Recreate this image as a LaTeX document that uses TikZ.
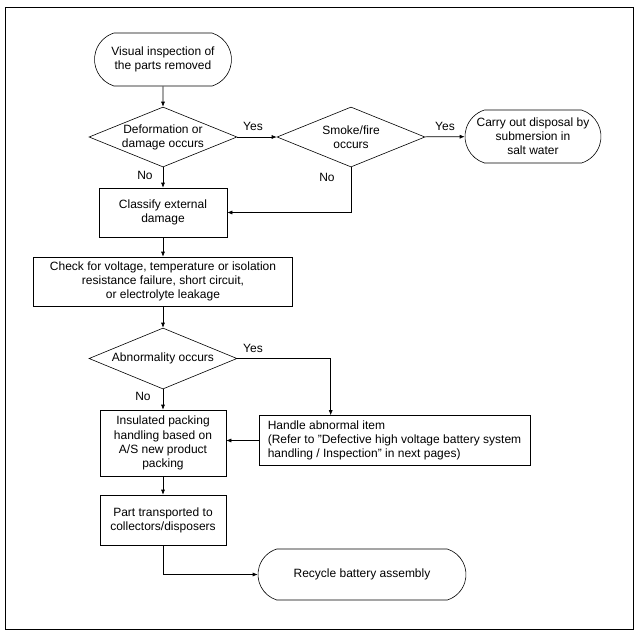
\documentclass[tikz,border=0pt]{standalone}
\usepackage{fontspec}
\setmainfont{Liberation Sans}
\usetikzlibrary{shapes.geometric,shapes.misc,arrows.meta}
\begin{document}
\begin{tikzpicture}[x=1pt,y=-1pt,
  every node/.style={font=\fontsize{12}{14.2}\selectfont},
  line/.style={draw=black,line width=0.6pt},
  arr/.style={line,-{Latex[length=5pt,width=4pt]}},
  term/.style={line,rounded rectangle,rounded rectangle arc length=145,inner sep=0pt,align=center},
  dec/.style={line,diamond,aspect=2.47,inner sep=0pt,minimum width=148pt,minimum height=60pt,align=center},
  proc/.style={line,rectangle,inner sep=0pt,align=center},
  lbl/.style={inner sep=0pt}]
\useasboundingbox (0,0) rectangle (638,633);
\draw[line] (5,7) rectangle (633,629);

\node[term,minimum width=137pt,minimum height=53pt] (start) at (163,59.5) {Visual inspection of\\the parts removed};
\node[dec] (d1) at (163,137) {Deformation or\\damage occurs};
\node[dec] (d2) at (351,137) {Smoke/fire\\occurs};
\node[term,minimum width=136pt,minimum height=53pt] (disp) at (533,136.5) {Carry out disposal by\\submersion in\\salt water};
\node[proc,minimum width=128pt,minimum height=49pt] (cls) at (163,212.5) {Classify external\\damage};
\node[proc,minimum width=259pt,minimum height=49pt] (chk) at (163,281.5) {Check for voltage, temperature or isolation\\resistance failure, short circuit,\\or electrolyte leakage};
\node[dec,minimum height=61pt] (d3) at (163,358.5) {Abnormality occurs};
\node[proc,minimum width=271pt,minimum height=50pt,align=left] (hdl) at (394.5,440.5) {Handle abnormal item\\(Refer to \char34 Defective high voltage battery system\\handling / Inspection\char34\ in next pages)};
\node[proc,minimum width=126pt,minimum height=66pt] (ins) at (163,443) {Insulated packing\\handling based on\\A/S new product\\packing};
\node[proc,minimum width=126pt,minimum height=50pt] (part) at (163,520) {Part transported to\\collectors/disposers};
\node[term,minimum width=208pt,minimum height=51pt] (rec) at (362,574.5) {Recycle battery assembly};

\draw[arr] (start) -- (d1);
\draw[arr] (d1) -- (d2);
\draw[arr] (d2) -- (disp);
\draw[arr] (d1) -- (cls);
\draw[arr] (d2.south) |- (cls.east);
\draw[arr] (cls) -- (chk);
\draw[arr] (chk) -- (d3);
\draw[arr] (d3.east) -| ([xshift=72pt]hdl.north west);
\draw[arr] (hdl.west) -- (ins.east |- hdl.west);
\draw[arr] (d3) -- (ins);
\draw[arr] (ins) -- (part);
\draw[arr] (part.south) |- (rec.west);

\node[lbl] (y1) at (253,126) {Yes};
\node[lbl] (y2) at (445,126) {Yes};
\node[lbl] (n1) at (145,175) {No};
\node[lbl] (n2) at (327,177) {No};
\node[lbl] (y3) at (253,348) {Yes};
\node[lbl] (n3) at (143,396) {No};
\end{tikzpicture}
\end{document}
